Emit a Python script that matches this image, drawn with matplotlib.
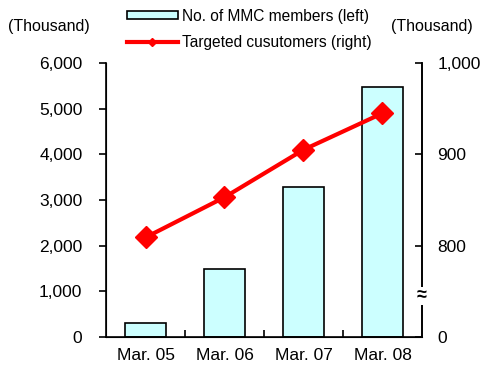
import matplotlib
matplotlib.use("Agg")
import matplotlib.pyplot as plt
from matplotlib.patches import Patch
from matplotlib.lines import Line2D
from matplotlib.ticker import FixedLocator

plt.rcParams['font.family'] = ['Liberation Sans', 'DejaVu Sans']

# data
periods = ["Mar. 05", "Mar. 06", "Mar. 07", "Mar. 08"]
mmc_members = [300, 1480, 3290, 5470]      # thousand, left axis
targeted = [809, 853, 905, 945]            # thousand, right axis
left_ticks = [0, 1000, 2000, 3000, 4000, 5000, 6000]
right_ticks = [700, 800, 900, 1000]        # 700 is drawn as the broken "0"
right_labels = ["0", "800", "900", "1,000"]

fig = plt.figure(figsize=(4.85, 3.7), dpi=100)
ax = fig.add_axes([0.2186, 0.0892, 0.6514, 0.7405])
x = range(len(periods))

ax.bar(x, mmc_members, width=0.52, color="#ccffff", edgecolor="black", linewidth=1.2, zorder=2)
ax.set_xlim(-0.5, len(periods) - 0.5)
ax.set_ylim(0, 6000)
ax.set_yticks(left_ticks)
ax.set_yticklabels([f"{v:,}" for v in left_ticks])
ax.set_xticks(list(x))
ax.set_xticklabels(periods)
ax.tick_params(axis="x", length=0, pad=8, labelsize=12.5)
ax.xaxis.set_minor_locator(FixedLocator([0.5, 1.5, 2.5]))
ax.tick_params(axis="x", which="minor", direction="in", length=5, width=1.2)
ax.tick_params(axis="y", direction="out", length=5, width=1.2, pad=12, labelsize=12.5)
ax.spines["top"].set_visible(False)
for s in ["left", "bottom", "right"]:
    ax.spines[s].set_linewidth(1.2)

ax2 = ax.twinx()
ax2.plot(x, targeted, color="red", linewidth=3, marker="D", markersize=11, zorder=3)
ax2.set_ylim(700, 1000)
ax2.set_yticks(right_ticks)
ax2.set_yticklabels(right_labels)
ax2.tick_params(axis="y", direction="in", length=5, width=1.2, pad=11, labelsize=12.5)
ax2.spines["top"].set_visible(False)
ax2.spines["right"].set_linewidth(1.2)
ax2.text(1.0, 0.15, "≈", transform=ax2.transAxes, ha="center", va="center",
         fontsize=13, fontweight="bold",
         bbox=dict(facecolor="white", edgecolor="none", pad=0.5))

fig.text(8 / 485, 1 - 26 / 370, "(Thousand)", fontsize=11.5, va="center", ha="left")
fig.text(473 / 485, 1 - 26 / 370, "(Thousand)", fontsize=11.5, va="center", ha="right")

handles = [Patch(facecolor="#ccffff", edgecolor="black", linewidth=1.2),
           Line2D([], [], color="red", linewidth=3, marker="D", markersize=4)]
fig.legend(handles, ["No. of MMC members (left)", "Targeted cusutomers (right)"],
           loc="upper left", bbox_to_anchor=(118 / 485, 1.0), frameon=False,
           fontsize=11.2, handlelength=3.3, handleheight=0.5, handletextpad=0.25,
           labelspacing=0.75, borderaxespad=0.15)

plt.savefig("out.png", dpi=100)
plt.close()
